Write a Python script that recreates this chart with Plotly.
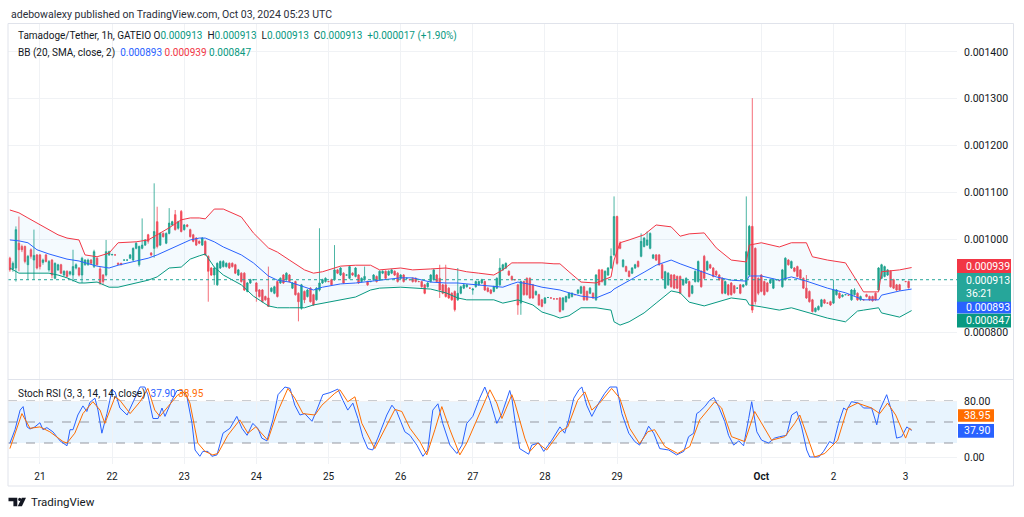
import pandas as pd
import plotly.graph_objects as go

W, H = 1024, 517
START = pd.Timestamp("2024-09-20 14:00")   # first hourly bar
UNIT = 1e-6                                # prices below are in millionths of USDT

# ---------------- hourly candles (Tamadoge/Tether, 1h) ----------------
opens = [
    959, 936, 938, 991, 984, 984, 945, 977, 955, 966,
    966, 950, 966, 934, 955, 916, 934, 945, 923, 931,
    925, 923, 938, 938, 923, 945, 945, 955, 941, 959,
    936, 923, 923, 966, 966, 966, 948, 948, 955, 955,
    959, 955, 980, 945, 980, 987, 1009, 970, 980, 1037,
    987, 1012, 991, 1012, 1030, 1052, 1023, 1059, 1020, 1030,
    1020, 1009, 1002, 995, 987, 995, 963, 938, 923, 902,
    938, 941, 941, 948, 948, 945, 923, 927, 927, 888,
    906, 913, 906, 891, 891, 877, 874, 888, 884, 909,
    906, 923, 913, 923, 895, 909, 884, 852, 888, 877,
    895, 881, 870, 891, 906, 909, 909, 913, 913, 934,
    923, 927, 923, 916, 927, 920, 923, 909, 913, 909,
    909, 913, 920, 913, 927, 931, 923, 927, 931, 927,
    916, 923, 916, 913, 916, 916, 909, 909, 902, 898,
    909, 913, 923, 916, 902, 902, 895, 884, 888, 870,
    884, 895, 898, 895, 891, 898, 902, 906, 909, 895,
    891, 888, 895, 902, 934, 938, 931, 920, 913, 902,
    863, 909, 916, 916, 902, 881, 881, 870, 863, 875,
    874, 872, 872, 874, 849, 866, 874, 877, 881, 884,
    884, 898, 888, 884, 884, 870, 934, 934, 902, 923,
    938, 966, 1048, 991, 941, 941, 931, 927, 938, 952,
    963, 984, 987, 980, 959, 966, 966, 945, 895, 902,
    923, 923, 920, 920, 902, 906, 909, 884, 909, 909,
    931, 963, 934, 945, 938, 931, 923, 916, 884, 902,
    906, 900, 895, 902, 898, 902, 923, 1027, 980, 916,
    923, 909, 906, 906, 895, 913, 911, 898, 913, 955,
    938, 938, 941, 934, 916, 895, 888, 870, 845, 849,
    856, 870, 863, 866, 863, 881, 884, 877, 881, 880,
    870, 881, 884, 870, 870, 881, 877, 877, 884, 891,
    916, 920, 923, 931, 913, 902, 902, 913, 909, 909,
    913,
]
highs = [
    962, 952, 1027, 1048, 988, 986, 966, 980, 1020, 968,
    968, 958, 968, 955, 957, 950, 947, 947, 933, 933,
    932, 977, 948, 940, 962, 957, 958, 957, 977, 961,
    940, 925, 998, 975, 968, 967, 950, 949, 956, 956,
    968, 982, 993, 986, 1044, 1000, 1011, 972, 1119, 1069,
    1014, 1014, 1014, 1066, 1039, 1062, 1039, 1062, 1032, 1032,
    1022, 1011, 1004, 997, 1004, 997, 965, 940, 940, 950,
    954, 955, 950, 950, 950, 947, 936, 929, 929, 908,
    915, 914, 908, 893, 893, 879, 941, 897, 900, 911,
    918, 925, 929, 925, 908, 911, 886, 904, 890, 893,
    897, 883, 897, 1023, 915, 918, 910, 915, 987, 936,
    940, 929, 924, 943, 929, 940, 925, 918, 941, 911,
    910, 925, 922, 933, 933, 933, 933, 936, 933, 929,
    925, 925, 917, 914, 918, 918, 910, 911, 904, 908,
    925, 936, 925, 945, 904, 945, 897, 886, 890, 938,
    900, 904, 904, 896, 895, 911, 911, 915, 911, 897,
    893, 900, 918, 959, 947, 950, 933, 922, 914, 904,
    911, 911, 918, 918, 904, 890, 883, 872, 876, 876,
    875, 873, 873, 876, 876, 879, 886, 886, 882, 893,
    900, 900, 890, 897, 886, 925, 936, 936, 933, 940,
    980, 1091, 1050, 995, 957, 943, 933, 940, 947, 954,
    1012, 1004, 1016, 1014, 968, 968, 968, 947, 932, 929,
    925, 925, 922, 922, 915, 918, 911, 902, 933, 954,
    933, 966, 954, 947, 940, 933, 925, 918, 911, 904,
    908, 902, 896, 904, 903, 1091, 1030, 1301, 982, 918,
    925, 911, 908, 915, 915, 914, 912, 936, 961, 957,
    954, 940, 943, 936, 918, 923, 890, 872, 854, 858,
    872, 872, 864, 868, 913, 893, 886, 882, 882, 881,
    893, 895, 886, 879, 871, 883, 879, 879, 886, 940,
    947, 943, 936, 933, 915, 904, 904, 914, 910, 911,
    913,
]
lows = [
    930, 930, 909, 931, 972, 948, 913, 958, 913, 935,
    935, 945, 950, 930, 916, 914, 932, 925, 920, 918,
    922, 909, 935, 920, 906, 943, 943, 945, 938, 943,
    902, 902, 920, 964, 965, 965, 945, 944, 954, 954,
    957, 953, 978, 941, 978, 985, 990, 963, 960, 980,
    985, 1003, 989, 1010, 1028, 1018, 1020, 1014, 1018, 1025,
    1003, 993, 985, 989, 985, 964, 866, 921, 902, 900,
    936, 939, 939, 936, 939, 925, 921, 907, 889, 886,
    904, 912, 866, 875, 864, 868, 856, 886, 882, 875,
    904, 904, 911, 907, 893, 879, 824, 849, 863, 875,
    864, 857, 868, 888, 904, 907, 908, 900, 911, 925,
    921, 904, 922, 914, 921, 918, 904, 907, 911, 900,
    908, 911, 907, 911, 925, 914, 921, 925, 921, 907,
    914, 907, 915, 912, 907, 907, 908, 896, 882, 896,
    907, 911, 907, 874, 882, 875, 872, 868, 845, 868,
    882, 893, 896, 894, 881, 896, 900, 904, 889, 886,
    882, 886, 893, 900, 932, 936, 921, 911, 912, 838,
    838, 879, 879, 872, 872, 879, 857, 854, 861, 874,
    873, 871, 871, 843, 847, 864, 872, 875, 880, 882,
    882, 868, 868, 882, 872, 868, 900, 907, 900, 921,
    936, 963, 945, 978, 939, 929, 918, 925, 936, 939,
    961, 982, 985, 978, 957, 953, 943, 914, 893, 900,
    896, 893, 893, 882, 900, 904, 875, 882, 907, 907,
    896, 914, 932, 936, 918, 921, 911, 882, 882, 879,
    879, 883, 894, 882, 896, 900, 920, 842, 860, 880,
    886, 879, 886, 904, 893, 912, 910, 896, 911, 943,
    936, 929, 918, 914, 893, 872, 864, 843, 843, 847,
    854, 861, 862, 857, 861, 879, 872, 875, 880, 879,
    868, 879, 868, 868, 869, 875, 868, 866, 868, 889,
    914, 918, 921, 896, 893, 889, 889, 912, 908, 894,
    913,
]
closes = [
    934, 948, 1020, 977, 977, 952, 963, 963, 965, 938,
    941, 955, 952, 952, 923, 948, 945, 927, 931, 920,
    930, 941, 945, 923, 959, 955, 955, 948, 973, 945,
    906, 909, 973, 973, 967, 966, 946, 945, 955, 955,
    966, 980, 991, 984, 987, 998, 995, 966, 1016, 984,
    1012, 1005, 1012, 1034, 1037, 1020, 1037, 1016, 1030, 1027,
    1005, 995, 987, 991, 1002, 966, 931, 923, 938, 948,
    952, 952, 948, 938, 941, 927, 934, 909, 891, 906,
    913, 913, 888, 877, 866, 870, 856, 895, 898, 877,
    916, 906, 927, 909, 906, 881, 866, 902, 870, 891,
    866, 859, 895, 906, 913, 916, 909, 902, 934, 927,
    938, 906, 923, 941, 923, 938, 906, 916, 920, 902,
    909, 923, 909, 931, 931, 916, 931, 934, 923, 909,
    923, 909, 916, 913, 909, 909, 909, 898, 884, 906,
    923, 934, 909, 891, 884, 877, 874, 870, 849, 884,
    898, 902, 902, 895, 893, 909, 909, 913, 891, 888,
    884, 898, 916, 938, 945, 948, 923, 913, 913, 859,
    909, 881, 881, 874, 874, 888, 859, 856, 874, 875,
    874, 872, 872, 845, 874, 877, 884, 884, 881, 891,
    898, 870, 870, 895, 874, 923, 902, 909, 931, 938,
    963, 1048, 948, 980, 955, 931, 920, 938, 945, 941,
    995, 1002, 998, 1012, 966, 955, 945, 916, 930, 927,
    898, 895, 895, 884, 913, 916, 877, 900, 931, 952,
    898, 916, 952, 938, 920, 923, 913, 884, 909, 881,
    881, 885, 895, 884, 902, 973, 1027, 848, 866, 884,
    888, 881, 888, 913, 913, 913, 911, 934, 959, 945,
    952, 931, 920, 916, 895, 874, 866, 845, 852, 856,
    870, 863, 863, 859, 891, 891, 874, 880, 881, 880,
    891, 891, 870, 877, 870, 877, 870, 868, 870, 938,
    945, 941, 934, 898, 895, 891, 891, 913, 909, 896,
    913,
]

# ---------------- Bollinger Bands (20, SMA, close, 2) ----------------
band_hours = [
    0, 3, 6, 9, 13, 16, 19, 23, 25, 29,
    33, 36, 42, 46, 49, 53, 57, 60, 63, 65,
    68, 71, 77, 81, 86, 89, 93, 98, 101, 104,
    110, 115, 120, 123, 130, 134, 140, 145, 149, 152,
    156, 161, 164, 167, 169, 174, 177, 181, 183, 186,
    190, 195, 200, 201, 203, 206, 211, 215, 220, 223,
    226, 231, 235, 240, 245, 246, 250, 256, 260, 265,
    267, 272, 278, 282, 284, 289, 290, 296, 300,
]
bb_upper = [
    1062, 1056, 1045, 1034, 1021, 1009, 1002, 998, 966, 962,
    970, 992, 994, 998, 1009, 1024, 1041, 1045, 1045, 1043,
    1064, 1064, 1047, 1013, 981, 972, 955, 934, 927, 930,
    942, 944, 944, 934, 938, 934, 936, 938, 934, 930,
    927, 923, 934, 949, 949, 949, 949, 947, 947, 930,
    908, 906, 919, 955, 992, 998, 1009, 1030, 1026, 1006,
    1011, 1013, 981, 955, 951, 987, 992, 983, 992, 992,
    962, 955, 949, 908, 887, 887, 930, 934, 939,
]
bb_basis = [
    998, 996, 992, 977, 968, 962, 957, 953, 949, 942,
    938, 944, 953, 959, 966, 977, 989, 998, 1002, 1002,
    994, 983, 966, 949, 921, 912, 908, 897, 891, 897,
    904, 906, 910, 912, 917, 917, 908, 906, 906, 904,
    902, 900, 897, 904, 908, 902, 897, 893, 891, 885,
    878, 874, 887, 893, 900, 912, 929, 944, 955, 947,
    940, 929, 919, 912, 910, 921, 921, 912, 919, 910,
    906, 895, 885, 874, 870, 870, 880, 889, 893,
]
bb_lower = [
    938, 927, 927, 927, 927, 923, 917, 906, 906, 908,
    897, 897, 906, 912, 919, 938, 940, 957, 964, 968,
    940, 923, 902, 878, 857, 853, 853, 853, 859, 863,
    870, 876, 891, 895, 897, 895, 893, 885, 874, 870,
    870, 870, 863, 867, 870, 859, 844, 836, 831, 836,
    853, 853, 848, 823, 816, 823, 842, 863, 889, 885,
    865, 857, 865, 874, 870, 859, 855, 848, 853, 844,
    840, 831, 823, 846, 848, 853, 842, 833, 847,
]

# ---------------- Stoch RSI (3, 3, 14, 14, close) ----------------
k_hours = [
    0, 1.7, 3.4, 4.4, 5.7, 6.7, 8.3, 10, 11, 12.3,
    14.3, 16.7, 19, 20, 21, 22.6, 24.3, 25.6, 26.6, 28.3,
    29.3, 30.6, 32.3, 34, 35, 36.6, 39, 40.6, 42.3, 43.3,
    44.9, 45.9, 47.6, 49.3, 50.6, 51.6, 53.9, 55.6, 57.2, 58.9,
    60.6, 61.6, 63.2, 64.2, 65.9, 67.2, 68.9, 70.9, 73.2, 75.5,
    77.2, 78.9, 80.8, 82.5, 83.8, 85.5, 87.5, 89.2, 91.5, 93.2,
    94.8, 96.5, 98.1, 100.5, 102.1, 104.1, 106.5, 109.1, 110.8, 112.4,
    114.1, 115.8, 117.4, 119.1, 120.7, 122.4, 125.4, 127.1, 128.7, 129.7,
    131.4, 133.1, 135.4, 137.4, 139, 140.7, 142.4, 144, 146.4, 148.7,
    150.4, 152, 154, 156.3, 158, 159.7, 162, 163.7, 166.3, 167,
    168, 169.6, 172.6, 173.6, 176, 177.6, 180.3, 183, 184.6, 185.9,
    187.6, 189.3, 190.3, 191.9, 193.6, 195.9, 197.9, 199.6, 201.9, 203.6,
    205.9, 207.9, 209.5, 211.2, 212.5, 214.2, 216.2, 219.2, 221.8, 224.2,
    225.8, 227.5, 228.5, 229.5, 231.2, 232.8, 234.2, 235.8, 237.8, 239.1,
    240.8, 242.5, 244.1, 245.8, 246.8, 248.5, 250.1, 252.4, 254.4, 256.1,
    258.4, 260.1, 261.8, 263.4, 265.1, 266.1, 269.1, 270.7, 272.7, 274,
    275.7, 277.4, 278.4, 280, 282.4, 284, 286.7, 288.4, 289.4, 291.7,
    293.4, 295, 296.7, 298.4, 300,
]
k_values = [
    19.5, 39, 67, 72, 43, 40, 43, 49, 39, 42,
    36, 23, 16, 39, 39, 60, 73, 65, 78, 84,
    67, 34, 62, 96, 93, 70, 60, 74, 91, 100,
    100, 89, 55, 55, 70, 58, 81, 95, 95, 86,
    48, 10, 1, 8, 8, 1, 3, 34, 41, 58,
    41, 31, 48, 41, 27, 23, 53, 89, 100, 98,
    74, 60, 62, 51, 67, 89, 92, 97, 81, 67,
    77, 55, 29, 12, 10, 27, 60, 74, 65, 55,
    36, 31, 17, 1, 10, 67, 76, 48, 17, 5,
    17, 48, 58, 84, 100, 81, 48, 62, 95, 84,
    53, 12, 4, 17, 20, 8, 24, 43, 34, 53,
    84, 96, 100, 74, 58, 77, 91, 100, 100, 62,
    34, 22, 17, 31, 44, 34, 12, 10, 3, 8,
    29, 34, 62, 65, 72, 81, 85, 72, 51, 31,
    17, 23, 16, 55, 79, 36, 24, 20, 27, 29,
    31, 60, 65, 43, 10, 0, 0, 8, 22, 19,
    48, 70, 67, 79, 77, 70, 70, 46, 67, 89,
    65, 27, 29, 43, 37.9,
]
d_hours = [
    0, 4, 6.7, 10, 13.3, 17.7, 19, 21.6, 24.3, 27.6,
    30, 31.6, 35, 36.6, 40, 43.3, 45.9, 48.2, 49.9, 52.6,
    55.9, 58.2, 59.9, 62.5, 64.9, 67.5, 69.2, 72.5, 76.5, 79.2,
    81.8, 85.8, 88.8, 92.5, 94.8, 97.5, 101.5, 103.8, 108.1, 109.8,
    112.4, 114.8, 117.1, 121.4, 124.7, 128.1, 130.4, 133.1, 136.4, 138.7,
    141.4, 143.7, 146.4, 149.7, 152, 156.3, 159.7, 162, 163.7, 167,
    168, 171.3, 173, 175.6, 178.6, 183, 185.6, 188.9, 191.3, 193.6,
    196.2, 200.2, 202.9, 206.2, 209.5, 212.2, 214.5, 217.9, 222.2, 226.2,
    229.5, 234.5, 236.8, 240.1, 244.5, 247.8, 250.1, 253.4, 257.8, 261.1,
    262.8, 265.4, 267.7, 271.1, 275.4, 278.7, 282, 286.7, 289.4, 292,
    294.7, 298, 299.3, 300,
]
d_values = [
    12, 62, 41, 43, 36, 22, 20, 34, 62, 79,
    67, 48, 86, 81, 62, 79, 98, 67, 58, 72,
    89, 93, 77, 20, 8, 3, 5, 31, 53, 34,
    43, 24, 62, 98, 84, 62, 60, 74, 91, 96,
    79, 86, 48, 12, 39, 68, 65, 41, 22, 3,
    39, 72, 39, 3, 20, 62, 96, 77, 55, 89,
    77, 27, 8, 20, 10, 36, 43, 81, 93, 67,
    77, 98, 84, 41, 19, 36, 39, 15, 5, 15,
    53, 79, 70, 29, 22, 65, 48, 24, 29, 48,
    60, 29, 0, 5, 24, 70, 77, 70, 62, 77,
    60, 27, 41, 38.95,
]

# ---------------- axes / labels ----------------
day_ticks = ["2024-09-21", "2024-09-22", "2024-09-23", "2024-09-24", "2024-09-25",
             "2024-09-26", "2024-09-27", "2024-09-28", "2024-09-29", "2024-10-01",
             "2024-10-02", "2024-10-03"]
day_labels = ["21", "22", "23", "24", "25", "26", "27", "28", "29", "<b>Oct</b>", "2", "3"]
price_ticks = [800, 900, 1000, 1100, 1200, 1300, 1400]
price_labels = ["0.000800", "", "0.001000", "0.001100", "0.001200", "0.001300", "0.001400"]
stoch_ticks = [0, 80]
stoch_labels = ["0.00", "80.00"]
stoch_levels = [20, 50, 80]

last_price = 913
bb_last_basis, bb_last_upper, bb_last_lower = 893, 939, 847
k_last, d_last = 37.90, 38.95
countdown = "36:21"

# ---------------- styling ----------------
UP, DOWN = "#089981", "#f23645"
BLUE, ORANGE = "#2962ff", "#ff6d00"
TXT = "#131722"
GRID = "#f0f2f5"
FONT = "Roboto, 'Noto Sans', sans-serif"

PLOT_L, PLOT_R = 8, 957          # plot area in pixels
PRICE_T, PRICE_B = 24, 379
STOCH_T, STOCH_B = 380, 464


def fx(px):
    return px / W


def fy(py):
    return 1 - py / H


def t(hours):
    return [START + pd.Timedelta(hours=h) for h in hours]


def s(vals):
    return [v * UNIT for v in vals]


candle_t = t(range(len(closes)))
band_t = t(band_hours)

fig = go.Figure()

# BB background fill
fig.add_trace(go.Scatter(x=band_t, y=s(bb_upper), mode="lines",
                         line=dict(width=0, color="rgba(0,0,0,0)"), hoverinfo="skip"))
fig.add_trace(go.Scatter(x=band_t, y=s(bb_lower), mode="lines",
                         line=dict(width=0, color="rgba(0,0,0,0)"), fill="tonexty",
                         fillcolor="rgba(33,150,243,0.05)", hoverinfo="skip"))

fig.add_trace(go.Candlestick(
    x=candle_t, open=s(opens), high=s(highs), low=s(lows), close=s(closes),
    increasing=dict(line=dict(color=UP, width=0.8), fillcolor=UP),
    decreasing=dict(line=dict(color=DOWN, width=0.8), fillcolor=DOWN),
    whiskerwidth=0, hoverinfo="skip", opacity=0.9))

fig.add_trace(go.Scatter(x=band_t, y=s(bb_upper), mode="lines", line=dict(color=DOWN, width=1)))
fig.add_trace(go.Scatter(x=band_t, y=s(bb_basis), mode="lines", line=dict(color=BLUE, width=1)))
fig.add_trace(go.Scatter(x=band_t, y=s(bb_lower), mode="lines", line=dict(color=UP, width=1)))

fig.add_trace(go.Scatter(x=t(k_hours), y=k_values, mode="lines", yaxis="y2",
                         line=dict(color=BLUE, width=1)))
fig.add_trace(go.Scatter(x=t(d_hours), y=d_values, mode="lines", yaxis="y2",
                         line=dict(color=ORANGE, width=1)))

x0 = START - pd.Timedelta(hours=0.63)
x1 = START + pd.Timedelta(hours=315.1)

fig.update_layout(
    width=W, height=H, margin=dict(l=0, r=0, t=0, b=0),
    paper_bgcolor="white", plot_bgcolor="rgba(0,0,0,0)",
    showlegend=False, hovermode=False,
    font=dict(family=FONT, color=TXT, size=10),
    xaxis=dict(domain=[fx(PLOT_L), fx(PLOT_R)], anchor="y2", type="date",
               range=[x0, x1], tickvals=day_ticks, ticktext=day_labels,
               showgrid=True, gridcolor=GRID, gridwidth=1, zeroline=False,
               showline=False, ticks="", tickfont=dict(size=10, color=TXT),
               ticklabelstandoff=5, rangeslider=dict(visible=False), fixedrange=True),
    yaxis=dict(domain=[fy(PRICE_B), fy(PRICE_T)], anchor="x", side="right",
               range=[700.8 * UNIT, 1459.5 * UNIT],
               tickvals=s(price_ticks), ticktext=price_labels,
               showgrid=True, gridcolor=GRID, zeroline=False, showline=False, ticks="",
               tickfont=dict(size=10.5, color=TXT), ticklabelstandoff=6, fixedrange=True),
    yaxis2=dict(domain=[fy(STOCH_B), fy(STOCH_T)], anchor="x", side="right",
                range=[-10, 110], tickvals=stoch_ticks, ticktext=stoch_labels,
                showgrid=True, gridcolor=GRID, zeroline=False, showline=False, ticks="",
                tickfont=dict(size=10.5, color=TXT), ticklabelstandoff=6, fixedrange=True),
)

shapes = []
# Stoch RSI band background and level lines
shapes.append(dict(type="rect", xref="paper", x0=fx(PLOT_L), x1=fx(PLOT_R), yref="y2",
                   y0=stoch_levels[0], y1=stoch_levels[2], fillcolor="rgba(33,150,243,0.1)",
                   line=dict(width=0), layer="below"))
for lv in stoch_levels:
    shapes.append(dict(type="line", xref="paper", x0=fx(PLOT_L), x1=fx(PLOT_R), yref="y2",
                       y0=lv, y1=lv, line=dict(color="#9598a1", width=1, dash="dash"),
                       layer="below"))
# last price dotted line
shapes.append(dict(type="line", xref="paper", x0=fx(PLOT_L), x1=fx(PLOT_R), yref="y",
                   y0=last_price * UNIT, y1=last_price * UNIT,
                   line=dict(color="#26a69a", width=1, dash="dot")))
# chart frame + pane separator
shapes.append(dict(type="rect", xref="paper", yref="paper", x0=fx(8), x1=fx(1013.5),
                   y0=fy(486), y1=fy(23.5), line=dict(color="#e0e3eb", width=1), layer="above"))
shapes.append(dict(type="line", xref="paper", yref="paper", x0=fx(8), x1=fx(1013.5),
                   y0=fy(379.5), y1=fy(379.5), line=dict(color="#e0e3eb", width=1)))


def label_box(value, yref, bottom, top, color, left=957, right=1011):
    return dict(type="rect", xref="paper", x0=fx(left), x1=fx(right), yref=yref,
                ysizemode="pixel", yanchor=value, y0=bottom, y1=top,
                fillcolor=color, line=dict(width=0), layer="above")


shapes += [
    label_box(bb_last_upper * UNIT, "y", -5.5, 8.5, DOWN),
    label_box(last_price * UNIT, "y", -22.3, 6.7, "#26a69a"),
    label_box(bb_last_basis * UNIT, "y", -24.5, -12.7, BLUE),
    label_box(bb_last_lower * UNIT, "y", -16.8, -3.1, UP),
    label_box(d_last, "y2", 8, 20.4, ORANGE, 958, 994),
    label_box(k_last, "y2", -7.2, 6.5, BLUE, 958, 994),
]


# TradingView logo (decoration)
def path(points):
    return "M " + " L ".join(f"{fx(a):.5f},{fy(b):.5f}" for a, b in points) + " Z"


shapes.append(dict(type="path", xref="paper", yref="paper", fillcolor=TXT, line=dict(width=0),
                   path=path([(8.5, 497.7), (17.3, 497.7), (17.3, 506.2), (13.4, 506.2),
                              (13.4, 501.2), (8.5, 501.2)])))
shapes.append(dict(type="circle", xref="paper", yref="paper", fillcolor=TXT, line=dict(width=0),
                   x0=fx(18.2), x1=fx(21.2), y0=fy(501.0), y1=fy(497.8)))
shapes.append(dict(type="path", xref="paper", yref="paper", fillcolor=TXT, line=dict(width=0),
                   path=path([(21.8, 497.7), (26.0, 497.7), (21.9, 506.2), (17.8, 506.2)])))
fig.update_layout(shapes=shapes)


def g(txt, c):
    return f'<span style="color:{c}">{txt}</span>'


def fmt(v):
    return f"{v * UNIT:.6f}"


sp = "&nbsp;&nbsp;"
chg = last_price - closes[-2]
line1 = ("Tamadoge/Tether, 1h, GATEIO&nbsp;" +
         "O" + g(fmt(opens[-1]), UP) + sp + "H" + g(fmt(highs[-1]), UP) + sp +
         "L" + g(fmt(lows[-1]), UP) + sp + "C" + g(fmt(closes[-1]), UP) + sp +
         g(f"+{fmt(chg)} (+{chg / closes[-2] * 100:.2f}%)", UP))
line2 = ("BB (20, SMA, close, 2)" + sp + g(fmt(bb_last_basis), BLUE) + "&nbsp;" +
         g(fmt(bb_last_upper), DOWN) + "&nbsp;" + g(fmt(bb_last_lower), UP))
line3 = ("Stoch RSI (3, 3, 14, 14, close)" + sp + g(f"{k_last:.2f}", BLUE) + "&nbsp;" +
         g(f"{d_last:.2f}", ORANGE))

ann = []


def note(text, px, py, size=10, color=TXT):
    ann.append(dict(text=text, xref="paper", yref="paper", x=fx(px), y=fy(py),
                    xanchor="left", yanchor="middle", showarrow=False,
                    font=dict(size=size, color=color, family=FONT)))


note("adebowalexy published on TradingView.com, Oct 03, 2024 05:23 UTC", 9, 14, 10.5, "#2a2e39")
note(line1, 16, 36, 10)
note(line2, 16, 53, 10)
note(line3, 16, 394, 10)
note("TradingView", 29, 502, 11.5, TXT)


def box_text(text, value, yref, shift, px=964):
    ann.append(dict(text=text, xref="paper", x=fx(px), xanchor="left", yref=yref, y=value,
                    yanchor="middle", yshift=shift, showarrow=False,
                    font=dict(size=10.5, color="white", family=FONT)))


box_text(fmt(bb_last_upper), bb_last_upper * UNIT, "y", 1.5)
box_text(fmt(last_price), last_price * UNIT, "y", -0.8)
box_text(countdown, last_price * UNIT, "y", -13.8)
box_text(fmt(bb_last_basis), bb_last_basis * UNIT, "y", -18.6)
box_text(fmt(bb_last_lower), bb_last_lower * UNIT, "y", -10)
box_text(f"{d_last:.2f}", d_last, "y2", 14.2, 962)
box_text(f"{k_last:.2f}", k_last, "y2", -0.3, 962)

fig.update_layout(annotations=ann)
fig.write_html("out.html", config={"displayModeBar": False, "staticPlot": True},
               post_script="document.body.style.margin='0';")
